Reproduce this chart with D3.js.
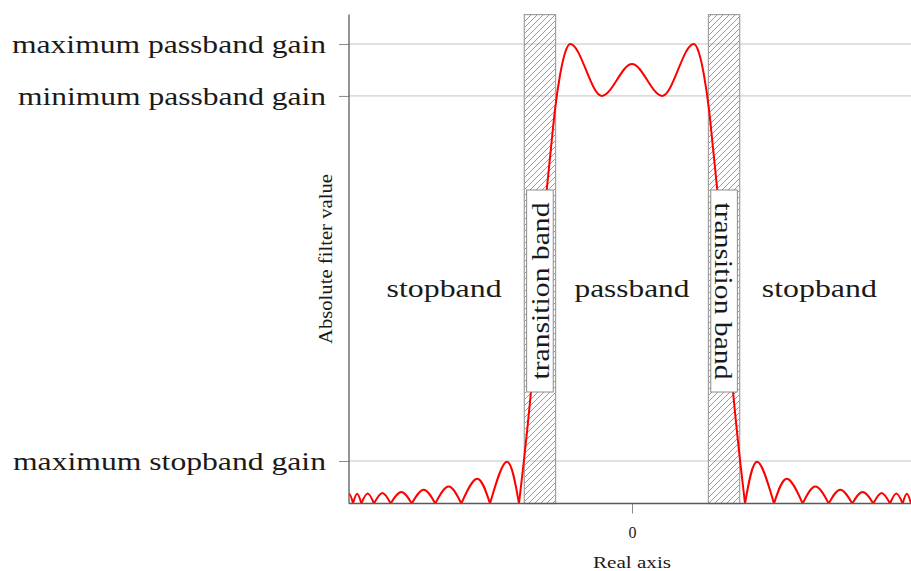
<!DOCTYPE html>
<html>
<head>
<meta charset="utf-8">
<script src="https://cdn.jsdelivr.net/npm/d3@7"></script>
<style>
  html, body { margin: 0; padding: 0; background: #fff; }
  svg { display: block; }
</style>
</head>
<body>
<svg id="chart" width="911" height="571"></svg>
<script>
// ---- data -------------------------------------------------------------
// Filter magnitude response (symmetric about 0), given for the positive half.
const mainLobeX = [0, 0.107, 0.218, 0.237, 0.2544, 0.2721, 0.2862, 0.3014, 0.357, 0.3816, 0.3993];
const mainLobeY = [0.9565, 0.887, 1.0, 0.980, 0.932, 0.857, 0.774, 0.682, 0.243, 0.095, 0];

// Stopband side lobes: zero crossings, peak positions and peak heights.
const sideLobeZeros = [0.3993, 0.5018, 0.6032, 0.6951, 0.7784, 0.8527, 0.9117, 0.9565, 0.9859, 1.0106];
const sideLobePeakX = [0.442, 0.5470, 0.6480, 0.7360, 0.8150, 0.8820, 0.9340, 0.9712, 0.9983];
const sideLobePeakY = [0.091, 0.054, 0.037, 0.030, 0.025, 0.023, 0.022, 0.021, 0.020];

// Transition bands [from, to]
const transitionBands = [[-0.3806, -0.2700], [0.2700, 0.3806]];
const transitionLabel = "transition band";

// Region labels
const regionLabels = ["stopband", "passband", "stopband"];
const regionCenters = [-0.664, 0, 0.662];

// Axis ticks
const xTickValues = [0];
const xTickLabels = ["0"];
const yTickValues = [0.0925, 0.887, 1.0];
const yTickLabels = ["maximum stopband gain", "minimum passband gain", "maximum passband gain"];

const xAxisTitle = "Real axis";
const yAxisTitle = "Absolute filter value";

// ---- layout -----------------------------------------------------------
const svg = d3.select("#chart");
const FONT = "'Liberation Serif', 'Times New Roman', serif";
const plotLeft = 349, plotRight = 915, plotBottom = 503.5, plotTop = 14.6;
const visibleRight = 911;

const x = d3.scaleLinear().domain([-1, 1]).range([plotLeft, plotRight]);
const y = d3.scaleLinear().domain([0, 1.064]).range([plotBottom, plotTop]);

function stretch(sel, w) {
  sel.attr("textLength", w).attr("lengthAdjust", "spacingAndGlyphs");
}

// hatch pattern for the transition bands
const defs = svg.append("defs");
const H = 6;
const pat = defs.append("pattern")
  .attr("id", "hatch").attr("patternUnits", "userSpaceOnUse")
  .attr("width", H).attr("height", H);
pat.append("path")
  .attr("d", `M0,${H} L${H},0 M-1,1 L1,-1 M${H - 1},${H + 1} L${H + 1},${H - 1}`)
  .attr("stroke", "#7a7a7a").attr("stroke-width", 0.75);

defs.append("clipPath").attr("id", "plotClip")
  .append("rect")
  .attr("x", plotLeft).attr("y", 0)
  .attr("width", visibleRight - plotLeft).attr("height", plotBottom + 2);

// grid lines
svg.append("g").selectAll("line").data(yTickValues).join("line")
  .attr("x1", plotLeft).attr("x2", visibleRight)
  .attr("y1", d => y(d)).attr("y2", d => y(d))
  .attr("stroke", "#c4c4c4").attr("stroke-width", 1);

// transition band rectangles
svg.append("g").selectAll("rect").data(transitionBands).join("rect")
  .attr("x", d => x(d[0])).attr("y", plotTop)
  .attr("width", d => x(d[1]) - x(d[0]))
  .attr("height", plotBottom - plotTop)
  .attr("fill", "url(#hatch)")
  .attr("stroke", "#a0a0a0").attr("stroke-width", 1.2);

// ---- response curve ---------------------------------------------------
const curveG = svg.append("g").attr("clip-path", "url(#plotClip)");
const mainPts = [];
for (let i = mainLobeX.length - 1; i > 0; i--) mainPts.push([-mainLobeX[i], mainLobeY[i]]);
for (let i = 0; i < mainLobeX.length; i++) mainPts.push([mainLobeX[i], mainLobeY[i]]);

const mainLine = d3.line().x(d => x(d[0])).y(d => y(d[1])).curve(d3.curveMonotoneX);
const lobeLine = d3.line().x(d => x(d[0])).y(d => y(d[1])).curve(d3.curveNatural);

const lobes = [];
sideLobePeakY.forEach((h, i) => {
  const a = sideLobeZeros[i], b = sideLobeZeros[i + 1], p = sideLobePeakX[i];
  lobes.push([[a, 0], [p, h], [b, 0]]);
  lobes.push([[-b, 0], [-p, h], [-a, 0]]);
});

curveG.append("path").attr("d", mainLine(mainPts))
  .attr("fill", "none").attr("stroke", "#ff0000").attr("stroke-width", 2)
  .attr("stroke-linejoin", "round");
curveG.selectAll("path.lobe").data(lobes).join("path").attr("class", "lobe")
  .attr("d", d => lobeLine(d))
  .attr("fill", "none").attr("stroke", "#ff0000").attr("stroke-width", 2)
  .attr("stroke-linejoin", "round");

// ---- axes -------------------------------------------------------------
const axisColor = "#5a5a5a";
const yAxis = d3.axisLeft(y).tickValues(yTickValues)
  .tickFormat((d, i) => yTickLabels[i]).tickSize(10).tickPadding(13);
const gy = svg.append("g").attr("transform", `translate(${plotLeft},0)`).call(yAxis);
gy.select(".domain").remove();
gy.selectAll(".tick line").attr("stroke", "#8a8a8a").attr("stroke-width", 1);
const yLabelWidths = [313, 308, 314];
gy.selectAll(".tick text")
  .attr("font-family", FONT).attr("font-size", 26).attr("fill", "#1a1a1a")
  .each(function (d, i) { stretch(d3.select(this), yLabelWidths[i]); });

const xAxis = d3.axisBottom(x).tickValues(xTickValues)
  .tickFormat((d, i) => xTickLabels[i]).tickSize(10).tickPadding(13);
const gx = svg.append("g").attr("transform", `translate(0,${plotBottom})`).call(xAxis);
gx.select(".domain").remove();
gx.selectAll(".tick line").attr("stroke", "#8a8a8a").attr("stroke-width", 1);
gx.selectAll(".tick text").attr("font-family", FONT).attr("font-size", 16).attr("fill", "#1a1a1a");

// axis lines
svg.append("line").attr("x1", plotLeft).attr("x2", plotLeft)
  .attr("y1", plotTop).attr("y2", plotBottom)
  .attr("stroke", axisColor).attr("stroke-width", 1.3);
svg.append("line").attr("x1", plotLeft).attr("x2", visibleRight)
  .attr("y1", plotBottom).attr("y2", plotBottom)
  .attr("stroke", axisColor).attr("stroke-width", 1.3);

// axis titles
svg.append("text").text(xAxisTitle)
  .attr("x", x(0)).attr("y", 568).attr("text-anchor", "middle")
  .attr("font-family", FONT).attr("font-size", 17).attr("fill", "#1a1a1a")
  .call(stretch, 78);
svg.append("text").text(yAxisTitle)
  .attr("transform", `translate(332,${(plotTop + plotBottom) / 2}) rotate(-90)`)
  .attr("text-anchor", "middle")
  .attr("font-family", FONT).attr("font-size", 18).attr("fill", "#1a1a1a")
  .call(stretch, 170);

// ---- region labels ----------------------------------------------------
svg.append("g").selectAll("text").data(regionLabels).join("text")
  .text(d => d)
  .attr("x", (d, i) => x(regionCenters[i])).attr("y", 297)
  .attr("text-anchor", "middle")
  .attr("font-family", FONT).attr("font-size", 26).attr("fill", "#1a1a1a")
  .each(function () { stretch(d3.select(this), 115); });

// transition band labels in boxes
const boxW = 26.6, boxTop = 190, boxBottom = 392;
const boxMid = (boxTop + boxBottom) / 2;
transitionBands.forEach((band, i) => {
  const cx = x((band[0] + band[1]) / 2);
  svg.append("rect")
    .attr("x", cx - boxW / 2).attr("y", boxTop)
    .attr("width", boxW).attr("height", boxBottom - boxTop)
    .attr("fill", "#fff").attr("stroke", "#8c8c8c").attr("stroke-width", 1);
  const rot = i === 0 ? -90 : 90;
  const bx = i === 0 ? cx + 9 : cx - 9;
  svg.append("text").text(transitionLabel)
    .attr("transform", `translate(${bx},${boxMid}) rotate(${rot})`)
    .attr("text-anchor", "middle")
    .attr("font-family", FONT).attr("font-size", 26).attr("fill", "#1a1a1a")
    .call(stretch, 177);
});
</script>
</body>
</html>
